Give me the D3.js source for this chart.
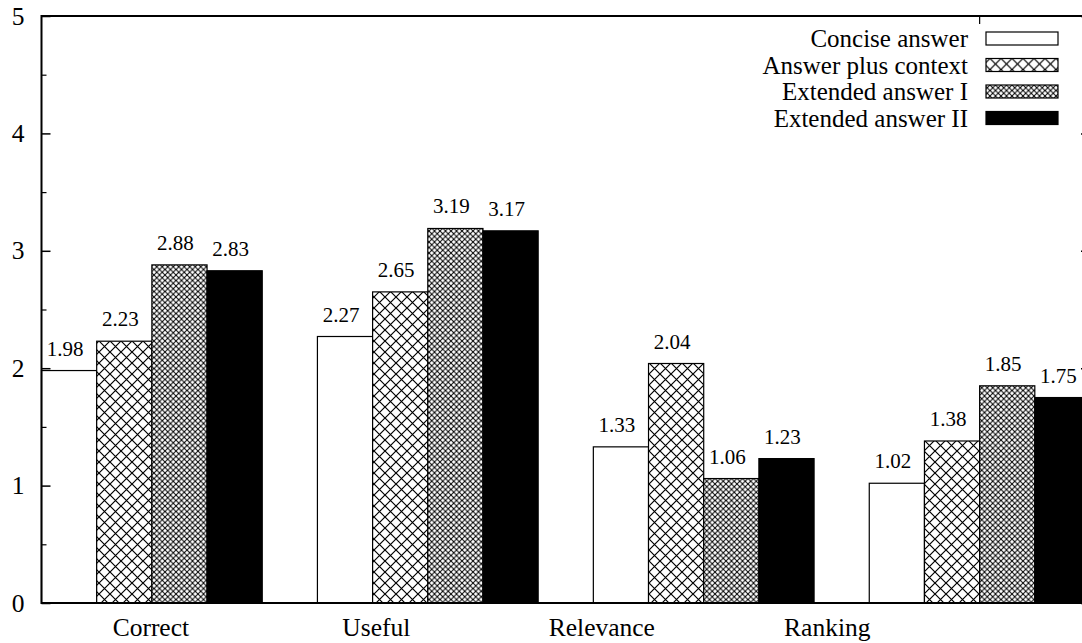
<!DOCTYPE html>
<html>
<head>
<meta charset="utf-8">
<script src="https://cdn.jsdelivr.net/npm/d3@7"></script>
<style>
  body { margin: 0; background: #fff; }
  svg { display: block; }
  svg text { font-family: 'Liberation Serif', 'Tinos', 'Times New Roman', Times, 'DejaVu Serif', serif !important; fill: #000; }
</style>
</head>
<body>
<div id="chart"></div>
<script>
const categories = ['Correct', 'Useful', 'Relevance', 'Ranking'];
const seriesNames = ['Concise answer', 'Answer plus context', 'Extended answer I', 'Extended answer II'];
const concise = [1.98, 2.27, 1.33, 1.02];
const plusContext = [2.23, 2.65, 2.04, 1.38];
const extendedI = [2.88, 3.19, 1.06, 1.85];
const extendedII = [2.83, 3.17, 1.23, 1.75];
const yTicks = [0, 1, 2, 3, 4, 5];
const yMinorTicks = [0.5, 1.5, 2.5, 3.5, 4.5];

const series = [concise, plusContext, extendedI, extendedII];

const width = 1082, height = 643;
const margin = {top: 16, left: 41.5, bottom: 40};
const plotRight = 1090;
const slots = 5; // 4 bars + 1 gap per group

const svg = d3.select('#chart').append('svg')
  .attr('width', width)
  .attr('height', height);

const defs = svg.append('defs');
function hatch(id, size, sw) {
  const p = defs.append('pattern')
    .attr('id', id)
    .attr('patternUnits', 'userSpaceOnUse')
    .attr('width', size)
    .attr('height', size);
  p.append('rect').attr('width', size).attr('height', size).attr('fill', '#fff');
  p.append('path')
    .attr('d', `M-1,-1L${size + 1},${size + 1}M${size + 1},-1L-1,${size + 1}`)
    .attr('stroke', '#000')
    .attr('stroke-width', sw);
}
hatch('cross-wide', 11, 1.2);
hatch('cross-fine', 5.5, 1);

const fills = ['#fff', 'url(#cross-wide)', 'url(#cross-fine)', '#000'];

const x = d3.scaleLinear()
  .domain([0, categories.length * slots - 1])
  .range([margin.left, plotRight]);
const y = d3.scaleLinear()
  .domain([0, 5])
  .range([height - margin.bottom, margin.top]);

// bars
const bars = [];
categories.forEach((c, g) => {
  series.forEach((s, i) => {
    bars.push({g, i, value: s[g]});
  });
});

svg.append('g').selectAll('rect')
  .data(bars)
  .join('rect')
    .attr('x', d => x(d.g * slots + d.i))
    .attr('width', d => x(d.g * slots + d.i + 1) - x(d.g * slots + d.i))
    .attr('y', d => y(d.value))
    .attr('height', d => y(0) - y(d.value))
    .attr('fill', d => fills[d.i])
    .attr('stroke', '#000')
    .attr('stroke-width', 1.2);

// value labels
svg.append('g').selectAll('text')
  .data(bars)
  .join('text')
    .attr('x', d => x(d.g * slots + d.i + 0.5) - 4)
    .attr('y', d => y(d.value) - 15)
    .attr('text-anchor', 'middle')
    .style('font-size', '21px')
    .text(d => d3.format('.2f')(d.value));

// axes
const yAxis = d3.axisLeft(y)
  .tickValues(yTicks)
  .tickSize(-9)
  .tickPadding(17)
  .tickFormat(d3.format('d'));
const gy = svg.append('g')
  .attr('transform', `translate(${margin.left},0)`)
  .call(yAxis)
  .attr('font-family', null);
gy.select('.domain').remove();
gy.selectAll('line').attr('stroke', '#000').attr('stroke-width', 1.5);
gy.selectAll('text').style('font-size', '25.5px');

const gyMinor = svg.append('g')
  .attr('transform', `translate(${margin.left},0)`)
  .call(d3.axisLeft(y).tickValues(yMinorTicks).tickSize(-5).tickFormat(''));
gyMinor.select('.domain').remove();
gyMinor.selectAll('line').attr('stroke', '#000').attr('stroke-width', 1.2);

const gyRight = svg.append('g')
  .attr('transform', `translate(${plotRight},0)`)
  .call(d3.axisRight(y).tickValues(yTicks).tickSize(-9).tickFormat(''));
gyRight.select('.domain').remove();
gyRight.selectAll('line').attr('stroke', '#000').attr('stroke-width', 1.5);

// top mirrored tic at last group centre
svg.append('line')
  .attr('x1', x((categories.length - 1) * slots + 2))
  .attr('x2', x((categories.length - 1) * slots + 2))
  .attr('y1', y(5))
  .attr('y2', y(5) + 8)
  .attr('stroke', '#000')
  .attr('stroke-width', 1.2);

// frame
svg.append('rect')
  .attr('x', margin.left)
  .attr('y', margin.top)
  .attr('width', plotRight - margin.left)
  .attr('height', y(0) - margin.top)
  .attr('fill', 'none')
  .attr('stroke', '#000')
  .attr('stroke-width', 2);

// category labels
const labelScale = d3.scalePoint()
  .domain(categories)
  .range([x(2) - 1, x(14.24)]);
svg.append('g').selectAll('text')
  .data(categories)
  .join('text')
    .attr('x', d => labelScale(d))
    .attr('y', y(0) + 33)
    .attr('text-anchor', 'middle')
    .style('font-size', '25.5px')
    .text(d => d);

// legend
const legend = svg.append('g')
  .attr('transform', 'translate(0, 32)');
const rows = legend.selectAll('g')
  .data(seriesNames)
  .join('g')
    .attr('transform', (d, i) => `translate(0, ${i * 26.5})`);
rows.append('text')
  .attr('x', 968)
  .attr('y', 15)
  .attr('text-anchor', 'end')
  .style('font-size', '25px')
  .text(d => d);
rows.append('rect')
  .attr('x', 986)
  .attr('y', 0)
  .attr('width', 72)
  .attr('height', 13)
  .attr('fill', (d, i) => fills[i])
  .attr('stroke', '#000')
  .attr('stroke-width', 1.2);
</script>
</body>
</html>
